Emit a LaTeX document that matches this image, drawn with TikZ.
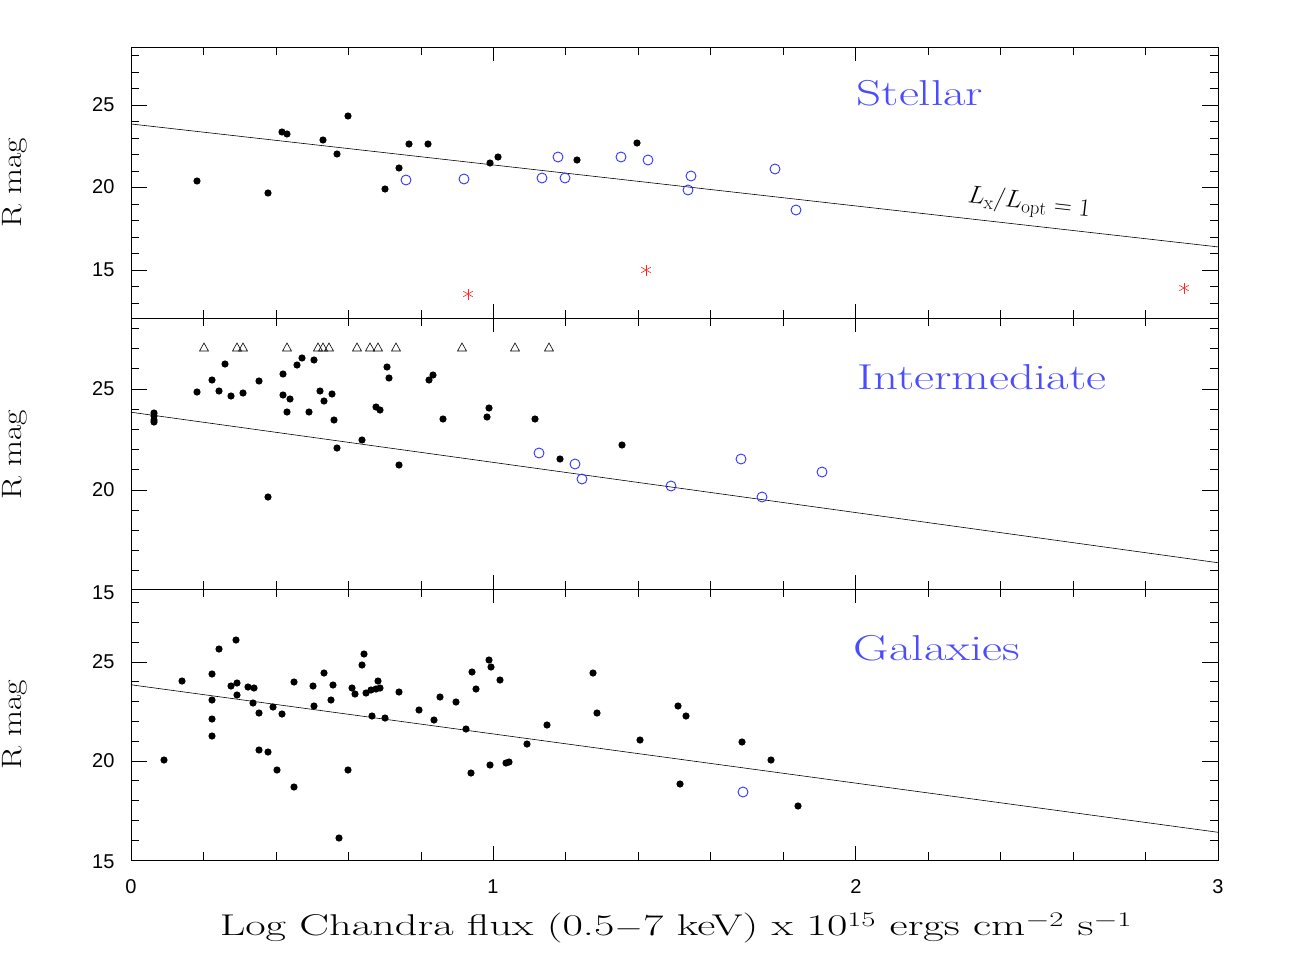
\documentclass[tikz,border=0pt]{standalone}
\usepackage{graphicx}
\usepackage{fontspec}
\setsansfont{Liberation Sans}
\begin{document}
\begin{tikzpicture}[x=1pt,y=-1pt,
  dot/.style={fill=black,draw=none},
  bc/.style={draw=blue!80,line width=0.9pt},
  ax/.style={line width=0.8pt},
  tk/.style={line width=0.7pt},
  tl/.style={font=\sffamily\fontsize{20}{20}\selectfont},
  ttl/.style={text=blue!70,font=\rmfamily\fontsize{36}{36}\selectfont},
  ylab/.style={rotate=90,font=\rmfamily\fontsize{28}{28}\selectfont}]
\useasboundingbox (0,0) rectangle (1296,969);
\def\xa{131}\def\xb{1218}
\foreach \yt/\yb/\yv/\s/\mlo in {47/318/105/16.5/13, 318/589/389/20.2/15, 589/860/662/19.8/15}{
  \draw[ax] (\xa,\yt) rectangle (\xb,\yb);
  \foreach \k in {1,...,14}{
    \pgfmathsetmacro\xx{131+72.4667*\k}
    \pgfmathsetmacro\ll{ifthenelse(mod(\k,5)==0,14,8)}
    \draw[tk] (\xx,\yb) -- ++(0,-\ll);
    \draw[tk] (\xx,\yt) -- ++(0,\ll);
  }
  \foreach \m in {\mlo,...,28}{
    \pgfmathsetmacro\yy{\yv+(25-\m)*\s}
    \pgfmathsetmacro\ll{ifthenelse(mod(\m,5)==0,16,8)}
    \ifdim\yy pt>\yt pt \ifdim\yy pt<\yb pt
      \draw[tk] (\xa,\yy) -- ++(\ll,0);
      \draw[tk] (\xb,\yy) -- ++(-\ll,0);
    \fi\fi
  }
  \draw[line width=0.6pt] (\xa,{\yv+1.15*\s}) -- (\xb,{\yv+8.6*\s});
}
\foreach \y/\t in {105/25,187/20,270/15,389/25,490/20,593/15,662/25,761/20,862/15}
  \node[tl,anchor=east] (yl\y) at (118,\y) {\t};
\foreach \x/\t in {131/0,493/1,856/2,1218/3}
  \node[tl] (xl\t) at (\x,887) {\t};
\node[ylab] (ry1) at (15,183) {\scalebox{1.2}[1]{R mag}};
\node[ylab] (ry2) at (15,455) {\scalebox{1.2}[1]{R mag}};
\node[ylab] (ry3) at (15,725) {\scalebox{1.2}[1]{R mag}};
\node[font=\rmfamily\fontsize{30}{30}\selectfont] (xlab) at (676,928)
  {\scalebox{1.48}[1]{Log Chandra flux (0.5$-$7 keV) x 10$^{15}$ ergs cm$^{-2}$ s$^{-1}$}};
\node[ttl] (t1) at (920,93) {\scalebox{1.36}[1]{Stellar}};
\node[ttl] (t2) at (982,377) {\scalebox{1.36}[1]{Intermediate}};
\node[ttl] (t3) at (937,648) {\scalebox{1.36}[1]{Galaxies}};
\node[rotate=-6.5,font=\fontsize{27}{27}\selectfont] (lab) at (1029,204) {$L_{\rm x}/L_{\rm opt}=1$};
% top panel
\foreach \x/\y in {197/181,268/193,282/132,287/134,323/140,337/154,348/116,385/189,399/168,409/144,428/144,490/163,498/157,577/160,637/143}
  \fill[dot] (\x,\y) circle (3.6);
\foreach \x/\y in {406/180,464/179,542/178,558/157,565/178,621/157,648/160,691/176,688/190,775/169,796/210}
  \draw[bc] (\x,\y) circle (5);
\foreach \x/\y in {468/294,646/270,1184/288}
  \foreach \a in {90,150,210}
    \draw[red!85,line width=0.6pt] (\x,\y) ++(\a:5.5) -- ++(\a+180:11);
% middle
\foreach \x in {204,237,243,287,318,323,329,357,370,378,396,462,515,549}
  \draw[line width=0.6pt] (\x-4.5,351) -- (\x+4.5,351) -- (\x,343) -- cycle;
\foreach \x/\y in {154/413,154/416,154/420,154/422,197/392,212/380,219/391,225/364,231/396,243/393,259/381,268/497,283/374,283/395,287/412,290/399,297/365,302/358,309/412,314/360,320/391,324/401,332/394,334/420,337/448,362/440,376/407,380/410,387/367,389/378,399/465,429/380,433/375,443/419,487/417,489/408,535/419,560/459,622/445}
  \fill[dot] (\x,\y) circle (3.6);
\foreach \x/\y in {539/453,575/464,582/479,671/486,741/459,762/497,822/472}
  \draw[bc] (\x,\y) circle (5);
% bottom
\foreach \x/\y in {164/760,182/681,212/674,212/700,212/719,212/736,219/649,231/686,236/640,237/683,237/695,248/687,253/703,254/688,259/713,259/750,268/752,273/707,277/770,282/714,294/787,294/682,313/686,314/706,324/673,331/700,333/685,339/838,348/770,352/688,355/694,362/665,364/654,366/693,371/690,372/716,376/689,378/681,380/688,385/718,399/692,419/710,434/720,440/697,456/702,466/729,471/773,472/672,476/689,489/660,491/667,490/765,500/680,506/763,509/762,527/744,547/725,593/673,597/713,640/740,678/706,680/784,686/716,742/742,771/760,798/806}
  \fill[dot] (\x,\y) circle (3.6);
\draw[bc] (743,792) circle (5);
\end{tikzpicture}
\end{document}
